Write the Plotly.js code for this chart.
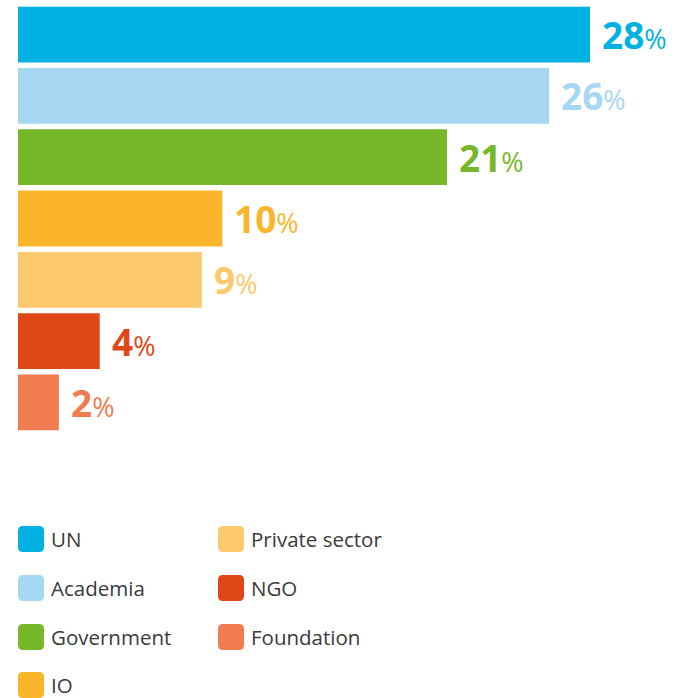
<!DOCTYPE html>
<html>
<head>
<meta charset="utf-8">
<script src="https://cdn.plot.ly/plotly-3.0.1.min.js"></script>
<style>html,body{margin:0;padding:0;background:#fff;}#chart{width:686px;height:698px;}</style>
</head>
<body>
<div id="chart"></div>
<script>
const categories = ["UN", "Academia", "Government", "IO", "Private sector", "NGO", "Foundation"];
const values = [28, 26, 21, 10, 9, 4, 2];
const colors = ["#00b1e1", "#a6d8f3", "#76b82a", "#fbb52b", "#fcc96c", "#e04716", "#f07c50"];
// legend layout: column index and row index per category
const legendCol = [0, 0, 0, 0, 1, 1, 1];
const legendRow = [0, 1, 2, 3, 0, 1, 2];

const W = 686, H = 698;
const mL = 18, mR = 0, mT = 4, mB = 265;
const plotW = W - mL - mR, plotH = H - mT - mB;
const px2x = px => (px - mL) / plotW;
const py2y = py => (H - mB - py) / plotH;

const trace = {
  type: "bar",
  orientation: "h",
  y: categories,
  x: values,
  marker: { color: colors, line: { width: 0 } },
  hoverinfo: "none",
  showlegend: false
};

const annotations = categories.map((c, i) => ({
  x: values[i], y: c, xref: "x", yref: "y",
  xanchor: "left", yanchor: "middle", xshift: 10, yshift: 0,
  showarrow: false,
  text: "<b>" + values[i] + "</b><span style='font-size:27px'>%</span>",
  font: { family: "Open Sans", size: 37, color: colors[i] }
}));

const shapes = [];
const colX = [18, 218];
const rowY = [539, 588, 637, 685];
const sw = 26;
categories.forEach((c, i) => {
  const cx = colX[legendCol[i]], cy = rowY[legendRow[i]];
  const x0 = px2x(cx), x1 = px2x(cx + sw), y0 = py2y(cy + sw / 2), y1 = py2y(cy - sw / 2);
  const r = 5;
  const rx = r / plotW, ry = r / plotH;
  shapes.push({
    type: "path", xref: "paper", yref: "paper",
    path: `M ${x0 + rx},${y1} L ${x1 - rx},${y1} Q ${x1},${y1} ${x1},${y1 - ry} L ${x1},${y0 + ry} Q ${x1},${y0} ${x1 - rx},${y0} L ${x0 + rx},${y0} Q ${x0},${y0} ${x0},${y0 + ry} L ${x0},${y1 - ry} Q ${x0},${y1} ${x0 + rx},${y1} Z`,
    fillcolor: colors[i], line: { width: 0 }
  });
  annotations.push({
    x: px2x(cx + sw + 5), y: py2y(cy), xref: "paper", yref: "paper",
    xanchor: "left", yanchor: "middle", showarrow: false,
    text: c, font: { family: "Open Sans", size: 20.5, color: "#3a3a3a" }
  });
});

const layout = {
  width: W, height: H,
  margin: { l: mL, r: mR, t: mT, b: mB, pad: 0 },
  paper_bgcolor: "#fff", plot_bgcolor: "#fff",
  bargap: 0.09,
  xaxis: { range: [0, plotW / 20.43], visible: false, fixedrange: true },
  yaxis: { autorange: "reversed", visible: false, fixedrange: true },
  showlegend: false,
  annotations: annotations,
  shapes: shapes
};

Plotly.newPlot("chart", [trace], layout, { staticPlot: true, displayModeBar: false });
</script>
</body>
</html>
